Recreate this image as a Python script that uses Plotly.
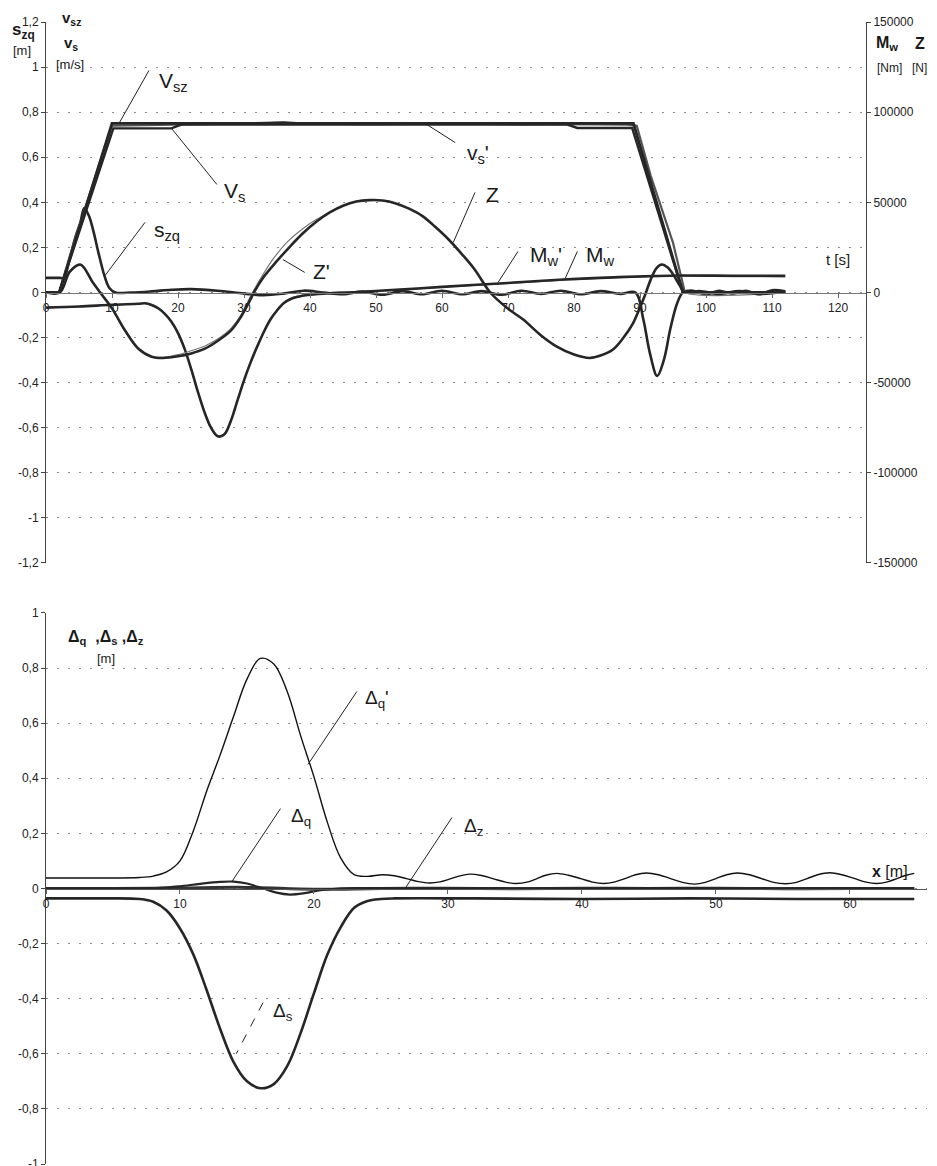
import plotly.graph_objects as go

# ---------------- top chart data (time in s) ----------------
t_top_ticks = [0, 10, 20, 30, 40, 50, 60, 70, 80, 90, 100, 110, 120]
y_left_ticks = [-1.2, -1.0, -0.8, -0.6, -0.4, -0.2, 0, 0.2, 0.4, 0.6, 0.8, 1.0, 1.2]
y_left_labels = ["-1,2", "-1", "-0,8", "-0,6", "-0,4", "-0,2", "0", "0,2", "0,4", "0,6", "0,8", "1", "1,2"]
y_right_ticks = [-150000, -100000, -50000, 0, 50000, 100000, 150000]
y_right_labels = ["-150000", "-100000", "-50000", "0", "50000", "100000", "150000"]

t_vsz = [0, 2, 10, 89, 96.5, 112]
v_sz = [0, 0, 0.75, 0.75, 0, 0]

t_vs = [0, 2, 10.2, 19, 20.5, 79, 80.5, 88.8, 96.5, 112]
v_s = [0, 0, 0.728, 0.728, 0.745, 0.745, 0.73, 0.73, 0, 0]

t_vs1 = [0, 2, 4, 6, 8, 10, 15, 20, 25, 28, 30, 33, 36, 38, 40, 44, 48, 52, 56, 60, 64, 68, 72, 76, 80, 84, 88, 89.5, 91.6, 93, 95, 96.8, 112]
v_s1 = [0, 0, 0.2, 0.38, 0.56, 0.74, 0.742, 0.744, 0.746, 0.748, 0.75, 0.753, 0.756, 0.752, 0.75, 0.748, 0.747, 0.746, 0.748, 0.75, 0.748, 0.747, 0.746, 0.747, 0.745, 0.746, 0.745, 0.74, 0.52, 0.4, 0.22, 0, 0]

t_szq = [0, 2.0, 2.7, 3.5, 4.5, 5.2, 5.8, 6.5, 7.2, 8.0, 8.9, 9.6, 10.5, 13, 16, 19, 22, 26, 30, 33, 36, 39, 42, 45, 48, 51, 54, 57, 60, 63, 66, 69, 72, 75, 78, 81, 84, 87, 89.3, 90.5, 91.5, 92.6, 93.6, 94.6, 95.6, 96.5, 98, 100, 102, 104, 106, 108, 110, 112]
s_zq = [0.065, 0.065, 0.065, 0.14, 0.25, 0.31, 0.375, 0.34, 0.27, 0.17, 0.07, 0.02, 0.0, 0.0, 0.005, 0.012, 0.015, 0.008, -0.005, -0.012, -0.005, 0.008, 0.0, -0.008, 0.004, -0.01, 0.006, -0.008, 0.008, -0.008, 0.006, -0.01, 0.008, -0.006, 0.008, -0.008, 0.006, -0.006, 0.0, -0.12, -0.27, -0.37, -0.3, -0.16, -0.05, 0.0, 0.008, -0.008, 0.008, -0.005, 0.008, -0.008, 0.01, 0.005]

# force Z [N] (right axis)
t_Z = [0, 2.1, 3.6, 5.2, 7.1, 8.2, 10, 12, 14, 16, 17.7, 20, 22, 24, 26, 28, 29.5, 31, 31.5, 33, 35, 37, 39, 41, 43, 45, 47, 49, 51, 53, 55, 57, 59, 61, 63, 65, 67.3, 70, 72.3, 75, 77.4, 80, 82.4, 84, 85.9, 87.5, 88.8, 89.8, 90.7, 91.6, 92.5, 93.3, 94.2, 95.1, 96, 96.8, 99, 102, 105, 108, 112]
Z = [0, 0, 11600, 15500, 5500, 0, -8800, -21200, -31200, -35600, -36300, -35400, -33800, -31300, -26900, -21200, -13700, -3700, 0, 8700, 17500, 25600, 33100, 39400, 44400, 48100, 50400, 51200, 51000, 49400, 46500, 42500, 36300, 29400, 21300, 12500, 0, -9000, -15000, -23800, -30000, -34400, -36300, -35000, -31600, -25000, -18000, -10000, -2000, 7000, 13500, 15500, 13800, 9500, 4000, 0, 800, -800, 800, -800, 600]

t_Z1 = [0, 2.1, 3.6, 5.2, 7.1, 8.2, 10, 12, 14, 16, 17.7, 20, 22, 24, 26, 28, 29.5, 30.8, 31.3, 32.8, 34.5, 36.5, 39, 41, 43, 45, 47, 49, 51, 53, 55, 57, 59, 61, 63, 65, 67.3, 70, 72.3, 75, 77.4, 80, 82.4, 84, 85.9, 87.5, 88.8, 89.8, 90.7, 91.6, 92.5, 93.3, 94.2, 95.1, 96, 96.8, 112]
Z1 = [0, 0, 11000, 15000, 5300, 0, -9000, -21400, -31200, -35600, -36000, -34500, -32300, -29800, -25800, -20000, -12800, -3500, 0, 9500, 19000, 27800, 35600, 40600, 44400, 48100, 50400, 51200, 51000, 49400, 46500, 42500, 36300, 29400, 21300, 12500, 0, -9000, -15000, -23800, -30000, -34400, -36300, -35000, -31600, -25000, -18000, -10000, -2000, 7000, 13500, 15500, 13800, 9500, 4000, 0, 0]

# moment Mw [Nm] (right axis)
t_Mw = [0, 5, 10, 14, 15, 16, 17, 18, 19, 20, 21, 22, 23, 24, 25, 26, 27, 28, 29, 30, 31, 32, 33, 34, 35, 36, 37, 38, 40, 43, 46, 53.6, 60, 70, 79, 86, 92, 96, 104, 112]
Mw = [-8400, -7800, -6800, -6250, -6000, -6900, -8750, -11900, -16250, -22500, -31250, -42500, -55000, -66250, -75000, -79750, -78750, -71250, -60000, -48750, -38750, -30000, -21900, -15000, -10000, -6000, -3750, -2500, -1250, -400, 0, 1600, 3100, 5300, 7300, 8400, 9100, 9400, 9300, 9200]

t_Mw1 = [0, 5, 10, 14, 15, 16, 17, 18, 19, 20, 21, 22, 23, 24, 25, 26, 27, 28, 29, 30, 31, 32, 33, 34, 35, 36, 37, 38, 40, 43, 46, 53.6, 60, 70, 79, 86, 92, 96, 104, 112]
Mw1 = [-8400, -7800, -6800, -6250, -6000, -6700, -8500, -11600, -16000, -22200, -31000, -42200, -54700, -66000, -74700, -79400, -78500, -71000, -59800, -48500, -38500, -29700, -21600, -14700, -9700, -5700, -3400, -2200, -900, 0, 400, 1400, 2900, 5000, 7000, 8200, 8800, 9000, 8800, 8800]

# ---------------- bottom chart data (position in m) ----------------
x_bot_ticks = [0, 10, 20, 30, 40, 50, 60]
y_bot_ticks = [-1.0, -0.8, -0.6, -0.4, -0.2, 0, 0.2, 0.4, 0.6, 0.8, 1.0]
y_bot_labels = ["-1", "-0,8", "-0,6", "-0,4", "-0,2", "0", "0,2", "0,4", "0,6", "0,8", "1"]

x_dq1 = [0, 4, 7, 8, 9, 10, 11, 12, 13, 14, 15, 16, 17, 18, 19, 20, 21, 22, 23, 24, 25.1, 26.0, 26.9, 27.8, 28.6, 29.4, 30.1, 30.9, 31.6, 32.5, 33.4, 34.3, 35.1, 35.9, 36.6, 37.3, 38.1, 39.0, 39.9, 40.8, 41.6, 42.4, 43.2, 44.0, 44.8, 45.7, 46.6, 47.5, 48.4, 49.2, 50.0, 50.8, 51.6, 52.5, 53.4, 54.3, 55.2, 56.0, 56.8, 57.6, 58.5, 59.4, 60.3, 61.2, 62.0, 62.8, 63.5, 64.2, 64.8]
dq1 = [0.038, 0.038, 0.04, 0.045, 0.06, 0.1, 0.21, 0.355, 0.485, 0.625, 0.76, 0.835, 0.815, 0.715, 0.555, 0.405, 0.24, 0.11, 0.05, 0.044, 0.05, 0.046, 0.036, 0.025, 0.02, 0.024, 0.034, 0.046, 0.052, 0.047, 0.035, 0.023, 0.018, 0.023, 0.035, 0.048, 0.055, 0.048, 0.036, 0.023, 0.018, 0.023, 0.036, 0.05, 0.056, 0.05, 0.036, 0.022, 0.016, 0.022, 0.036, 0.05, 0.056, 0.05, 0.036, 0.022, 0.017, 0.022, 0.036, 0.05, 0.057, 0.05, 0.037, 0.023, 0.018, 0.024, 0.036, 0.048, 0.055]

x_dq = [0, 5, 8.5, 10, 11.5, 13, 14, 15, 16.2, 17.2, 18.2, 19.3, 20.5, 21.8, 24, 28, 34, 40, 46, 52, 58, 64.8]
dq = [0.0, 0.0, 0.002, 0.008, 0.017, 0.024, 0.025, 0.018, 0.0, -0.015, -0.022, -0.017, -0.006, 0.0, 0.001, 0.0, 0.001, 0.0, 0.001, 0.0, 0.001, 0.0]

x_dz = [0, 5, 10, 15, 20, 25, 30, 35, 40, 45, 50, 55, 60, 64.8]
dz = [0.0, 0.0, 0.002, 0.004, -0.003, 0.0, 0.001, -0.001, 0.001, 0.0, 0.001, -0.001, 0.0, 0.0]

x_ds = [0, 4, 7, 8, 9, 10, 11, 12, 13, 14, 15, 16, 17, 18, 19, 20, 21, 22, 23, 24, 25, 26, 32, 40, 48, 56, 64.8]
ds = [-0.036, -0.036, -0.038, -0.048, -0.08, -0.145, -0.24, -0.37, -0.51, -0.63, -0.7, -0.725, -0.71, -0.645, -0.525, -0.38, -0.24, -0.14, -0.07, -0.045, -0.038, -0.036, -0.036, -0.038, -0.036, -0.038, -0.038]

# ---------------- figure ----------------
DARK = "#262626"
fig = go.Figure()

def add(x, y, xa, ya, width, color=DARK, shape="spline"):
    line = dict(color=color, width=width, shape=shape)
    if shape == "spline":
        line["smoothing"] = 1.0
    fig.add_trace(go.Scatter(x=x, y=y, xaxis=xa, yaxis=ya, mode="lines", line=line,
                             showlegend=False, hoverinfo="skip"))

# top
add(t_Mw1, Mw1, "x", "y2", 1.2, "#666666")
add(t_Mw, Mw, "x", "y2", 2.6)
add(t_Z1, Z1, "x", "y2", 1.2, "#777777")
add(t_Z, Z, "x", "y2", 2.6)
add(t_szq, s_zq, "x", "y", 2.6)
add(t_vs1, v_s1, "x", "y", 2.2, "#555555", "linear")
add(t_vs, v_s, "x", "y", 2.4, DARK, "linear")
add(t_vsz, v_sz, "x", "y", 2.8, DARK, "linear")
# bottom
add(x_dz, dz, "x2", "y3", 3.0, "#333333")
add(x_dq, dq, "x2", "y3", 2.2)
add(x_ds, ds, "x2", "y3", 2.6)
add(x_dq1, dq1, "x2", "y3", 1.4, "#111111")

LF = "Liberation Sans, Arial, sans-serif"
tickfont = dict(family=LF, size=12, color="#222")
grid = dict(showgrid=True, gridcolor="#8a8a8a", griddash="2px,9px", gridwidth=1)
common = dict(automargin=False, ticklabeloverflow="allow", tickfont=tickfont)

fig.update_layout(
    width=937, height=1166,
    margin=dict(l=46, r=10, t=22, b=2, autoexpand=False),
    paper_bgcolor="white", plot_bgcolor="white",
    font=dict(family=LF, color="#222"),
    xaxis=dict(domain=[0, 0.9308], range=[0, 124.24], anchor="free", position=0.7627,
               tickvals=t_top_ticks, ticks="outside", ticklen=4, tickcolor="#666",
               showline=True, linecolor="#777", linewidth=1, showgrid=False, zeroline=False,
               **common),
    yaxis=dict(domain=[0.5263, 1], range=[-1.2, 1.2], anchor="x",
               tickvals=y_left_ticks, ticktext=y_left_labels, ticks="outside", ticklen=4,
               tickcolor="#444", showline=True, linecolor="#444", linewidth=1, zeroline=False,
               **common, **grid),
    yaxis2=dict(overlaying="y", side="right", anchor="x", range=[-150000, 150000],
                tickvals=y_right_ticks, ticktext=y_right_labels, ticks="outside", ticklen=4,
                tickcolor="#444", showline=True, linecolor="#444", linewidth=1,
                showgrid=False, zeroline=False, **common),
    xaxis2=dict(domain=[0, 1], range=[0, 65.75], anchor="free", position=0.2408,
                tickvals=x_bot_ticks, ticks="outside", ticklen=4, tickcolor="#666",
                showline=True, linecolor="#555", linewidth=1, showgrid=False, zeroline=False,
                **common),
    yaxis3=dict(domain=[0, 0.4825], range=[-1, 1], anchor="x2",
                tickvals=y_bot_ticks, ticktext=y_bot_labels, ticks="outside", ticklen=4,
                tickcolor="#444", showline=True, linecolor="#444", linewidth=1, zeroline=False,
                **common, **grid),
)

ann = []
shapes = []

def label(text, x, y, xr, yr, size=21, bold=False):
    ann.append(dict(text=("<b>%s</b>" % text) if bold else text, x=x, y=y, xref=xr, yref=yr,
                    showarrow=False, xanchor="center", yanchor="middle",
                    font=dict(family=LF, size=size, color="#1a1a1a")))

def pointer(x0, y0, x1, y1, xr, yr, dash="solid"):
    shapes.append(dict(type="line", x0=x0, y0=y0, x1=x1, y1=y1, xref=xr, yref=yr,
                       line=dict(color="#222", width=1, dash=dash)))

# top curve labels
label("V<sub>sz</sub>", 19.3, 0.935, "x", "y")
pointer(15.6, 0.985, 11.06, 0.75, "x", "y")
label("V<sub>s</sub>", 28.6, 0.444, "x", "y")
pointer(25.9, 0.479, 19.1, 0.725, "x", "y")
label("s<sub>zq</sub>", 18.3, 0.271, "x", "y")
pointer(15.0, 0.311, 8.94, 0.075, "x", "y")
label("Z'", 41.8, 0.093, "x", "y")
pointer(39.2, 0.089, 35.9, 0.146, "x", "y")
label("v<sub>s</sub>'", 65.5, 0.615, "x", "y")
pointer(62.0, 0.665, 57.7, 0.745, "x", "y")
label("Z", 67.6, 0.435, "x", "y")
pointer(65.0, 0.444, 61.7, 0.222, "x", "y")
label("M<sub>w</sub>'", 75.8, 0.16, "x", "y")
pointer(71.5, 0.182, 68.5, 0.045, "x", "y")
label("M<sub>w</sub>", 84.0, 0.16, "x", "y")
pointer(80.5, 0.182, 78.6, 0.058, "x", "y")
label("t [s]", 120.0, 0.146, "x", "y", size=15)

# top axis titles
label("s<sub>zq</sub>", -0.025, 0.992, "paper", "paper", size=17, bold=True)
label("[m]", -0.027, 0.975, "paper", "paper", size=13)
label("v<sub>sz</sub>", 0.029, 1.0035, "paper", "paper", size=15, bold=True)
label("v<sub>s</sub>", 0.028, 0.9816, "paper", "paper", size=15, bold=True)
label("[m/s]", 0.027, 0.963, "paper", "paper", size=13)
label("M<sub>w</sub>", 0.955, 0.9816, "paper", "paper", size=16, bold=True)
label("Z", 0.992, 0.9816, "paper", "paper", size=16, bold=True)
label("[Nm]", 0.958, 0.9597, "paper", "paper", size=12)
label("[N]", 0.991, 0.9597, "paper", "paper", size=12)

# bottom labels
label("Δ<sub>q</sub>  ,Δ<sub>s</sub> ,Δ<sub>z</sub>", 0.068, 0.4606, "paper", "paper", size=16, bold=True)
label("[m]", 0.068, 0.443, "paper", "paper", size=13)
label("Δ<sub>q</sub>'", 24.7, 0.686, "x2", "y3", size=19)
pointer(23.2, 0.715, 19.55, 0.45, "x2", "y3")
label("Δ<sub>q</sub>", 19.0, 0.261, "x2", "y3", size=19)
pointer(17.5, 0.29, 13.9, 0.027, "x2", "y3")
label("Δ<sub>z</sub>", 31.9, 0.225, "x2", "y3", size=19)
pointer(30.3, 0.258, 26.8, 0.0, "x2", "y3")
label("Δ<sub>s</sub>", 17.7, -0.45, "x2", "y3", size=19)
pointer(16.2, -0.414, 14.2, -0.6, "x2", "y3", dash="dash")
label("<b>x</b> [m]", 63.0, 0.062, "x2", "y3", size=16)

fig.update_layout(annotations=ann, shapes=shapes)
fig.write_html("out.html", config={"displayModeBar": False},
               post_script="document.body.style.margin='0px';document.body.style.overflow='hidden';")
